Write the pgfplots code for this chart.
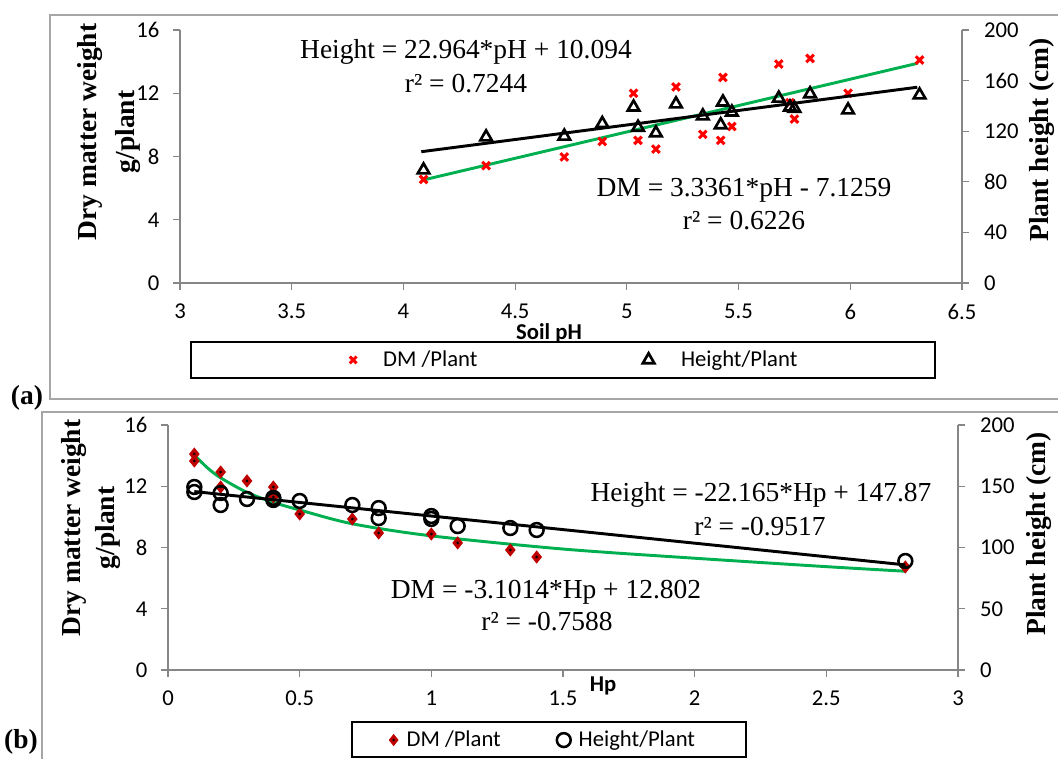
\documentclass[border=0pt]{standalone}
\usepackage{pgfplots}
\pgfplotsset{compat=1.18}
\usepackage{fontspec}
\setmainfont{Liberation Serif}
\newfontfamily\calibri{Carlito}

\definecolor{axgray}{HTML}{868686}
\definecolor{boxgray}{HTML}{A6A6A6}
\definecolor{trendgreen}{HTML}{00B050}
\definecolor{darkred}{HTML}{C00000}

% diamond with a black centre, as in the lower panel
\pgfdeclareplotmark{dmdia}{%
  \pgfpathmoveto{\pgfqpoint{0pt}{\pgfplotmarksize}}%
  \pgfpathlineto{\pgfqpoint{.8\pgfplotmarksize}{0pt}}%
  \pgfpathlineto{\pgfqpoint{0pt}{-\pgfplotmarksize}}%
  \pgfpathlineto{\pgfqpoint{-.8\pgfplotmarksize}{0pt}}%
  \pgfpathclose
  \pgfsetfillcolor{darkred}\pgfusepath{fill}%
  \pgfpathcircle{\pgfpointorigin}{.22\pgfplotmarksize}%
  \pgfsetfillcolor{black}\pgfusepath{fill}}

\pgfplotsset{
  panel/.style={
    scale only axis,
    clip=false,
    axis line style={draw=axgray, line width=0.8pt, -},
    tick style={draw=axgray, line width=0.8pt},
    tick align=outside,
    major tick length=5pt,
    tick label style={font=\calibri\fontsize{17}{20}\selectfont},
    /pgf/number format/assume math mode=true,
  },
  leftax/.style={panel, axis x line*=bottom, axis y line*=left,
    yticklabel style={xshift=-7pt}, xticklabel style={yshift=-7pt}},
  rightax/.style={panel, axis x line=none, axis y line*=right,
    yticklabel style={xshift=8pt}},
  legfont/.style={font=\calibri\fontsize{17}{20}\selectfont},
}

\newcommand{\eqfont}{\fontsize{20.6}{24}\selectfont}
\newcommand{\labfont}{\bfseries\fontsize{20.6}{28.5}\selectfont}

\begin{document}
\begin{tikzpicture}
\useasboundingbox (0,0) rectangle (793.5pt,-568.5pt);
\clip (0,0) rectangle (793.5pt,-568.5pt);

\begin{scope}[x=0.75pt,y=-0.75pt]
  \fill[white] (0,0) rectangle (1058,758);
  \draw[boxgray, line width=1pt] (50,15) rectangle (1075,399);
  \draw[boxgray, line width=1pt] (42,412) rectangle (1075,790);
\end{scope}

%% ---------------- panel (a) ----------------
\begin{axis}[leftax,
  at={(135pt,-212.25pt)}, anchor=south west,
  width=586.5pt, height=189.75pt,
  xmin=3, xmax=6.5, ymin=0, ymax=16,
  xtick={3,3.5,4,4.5,5,5.5,6,6.5},
  ytick={0,4,8,12,16},
]
\addplot[only marks, mark=x, mark size=4pt, red, line width=2.3pt]
  coordinates {
  (4.09,6.55) (4.37,7.42) (4.72,7.97) (4.89,8.95) (5.03,12.0)
  (5.05,9.02) (5.13,8.47) (5.22,12.4) (5.34,9.40) (5.42,9.02)
  (5.43,13.0) (5.47,9.90) (5.68,13.85) (5.73,11.40) (5.75,10.37)
  (5.82,14.2) (5.99,12.0) (6.31,14.1)
  };
\addplot[trendgreen, line width=2.2pt] coordinates {(4.08,6.486) (6.30,13.891)};
\end{axis}

\begin{axis}[rightax,
  at={(135pt,-212.25pt)}, anchor=south west,
  width=586.5pt, height=189.75pt,
  xmin=3, xmax=6.5, ymin=0, ymax=200,
  ytick={0,40,80,120,160,200},
  legend columns=2,
  legend style={legfont, draw=none, fill=none, at={(0.505,-0.304)}, anchor=center,
    /tikz/every odd column/.append style={column sep=18pt},
    /tikz/every even column/.append style={column sep=122pt}},
]
\addlegendimage{only marks, mark=x, mark size=3.6pt, red, line width=2.2pt}
\addlegendentry{DM /Plant}
\addplot[only marks, mark=triangle, mark size=5pt, black, line width=2pt]
  coordinates {
  (4.09,89.3) (4.37,115.4) (4.72,116) (4.89,126) (5.03,139)
  (5.05,123) (5.13,118.6) (5.22,141.5) (5.34,132) (5.42,125)
  (5.43,143) (5.47,135) (5.68,146) (5.73,139) (5.75,138)
  (5.82,149.5) (5.99,136.7) (6.31,148.6)
  };
\addlegendentry{Height/Plant}
\addplot[black, line width=2.2pt, forget plot] coordinates {(4.08,103.79) (6.30,154.77)};
\end{axis}

%% ---------------- panel (b) ----------------
\begin{axis}[leftax,
  at={(126pt,-502.5pt)}, anchor=south west,
  width=592.5pt, height=183.75pt,
  xmin=0, xmax=3, ymin=0, ymax=16,
  xtick={0,0.5,1,1.5,2,2.5,3},
  ytick={0,4,8,12,16},
]
\addplot[only marks, mark=dmdia, mark size=5pt]
  coordinates {
  (0.1,14.1) (0.1,13.65) (0.2,12.93) (0.2,11.95) (0.3,12.35)
  (0.4,11.95) (0.4,11.3) (0.5,10.19) (0.7,9.86) (0.8,8.95)
  (1.0,8.88) (1.1,8.30) (1.3,7.84) (1.4,7.38) (2.8,6.73)
  };
\addplot[trendgreen, line width=2.2pt, smooth] coordinates {
  (0.1,14.04) (0.15,13.2) (0.2,12.55) (0.3,11.6) (0.4,10.95) (0.5,10.45)
  (0.7,9.55) (1.0,8.76) (1.5,7.9) (2.0,7.3) (2.5,6.75) (2.8,6.45)
  };
\end{axis}

\begin{axis}[rightax,
  at={(126pt,-502.5pt)}, anchor=south west,
  width=592.5pt, height=183.75pt,
  xmin=0, xmax=3, ymin=0, ymax=200,
  ytick={0,50,100,150,200},
  legend columns=2,
  legend style={legfont, draw=none, fill=none, at={(0.475,-0.286)}, anchor=center,
    /tikz/every odd column/.append style={column sep=4pt},
    /tikz/every even column/.append style={column sep=40pt}},
]
\addlegendimage{only marks, mark=dmdia, mark size=4.6pt}
\addlegendentry{DM /Plant}
\addplot[only marks, mark=o, mark size=5.2pt, black, line width=1.9pt]
  coordinates {
  (0.1,149.4) (0.1,145.3) (0.2,144.5) (0.2,134.7) (0.3,139.6)
  (0.4,138.8) (0.4,140.5) (0.5,138.0) (0.7,134.7) (0.8,132.2)
  (0.8,124.0) (1.0,125.7) (1.0,123.3) (1.1,117.5) (1.3,115.9)
  (1.4,114.3) (2.8,89.0)
  };
\addlegendentry{Height/Plant}
\addplot[black, line width=2.2pt, forget plot] coordinates {(0.1,145.65) (2.8,85.81)};
\end{axis}

%% ---------------- texts and legend frames ----------------
\begin{scope}[x=0.75pt,y=-0.75pt]
  \draw[black, line width=1.2pt] (191,342) rectangle (935,378);
  \draw[black, line width=1.2pt] (352,722) rectangle (746,757);

  \node[font=\labfont, rotate=90, align=center] at (109,132) {Dry matter weight\\g/plant};
  \node[font=\labfont, rotate=90] at (1042,140) {Plant height (cm)};
  \node[font=\bfseries\fontsize{20.6}{25}\selectfont, rotate=90, align=center] at (91,528) {Dry matter weight\\g/plant};
  \node[font=\labfont, rotate=90] at (1039,534) {Plant height (cm)};

  \node[font=\calibri\bfseries\fontsize{17}{20}\selectfont] at (549,333) {Soil pH};
  \node[font=\calibri\bfseries\fontsize{17}{20}\selectfont] at (603,686) {Hp};

  \node[font=\eqfont] at (466,52) {Height = 22.964*pH + 10.094};
  \node[font=\eqfont] at (466,84) {r² = 0.7244};
  \node[font=\eqfont] at (744,190) {DM = 3.3361*pH - 7.1259};
  \node[font=\eqfont] at (744,221) {r² = 0.6226};

  \node[font=\eqfont] at (761,495) {Height = -22.165*Hp + 147.87};
  \node[font=\eqfont] at (760,527) {r² = -0.9517};
  \node[font=\eqfont] at (546,592) {DM = -3.1014*Hp + 12.802};
  \node[font=\eqfont] at (547,622) {r² = -0.7588};

  \node[font=\labfont] at (27,398) {(a)};
  \node[font=\labfont] at (21,742) {(b)};
\end{scope}
\end{tikzpicture}
\end{document}
